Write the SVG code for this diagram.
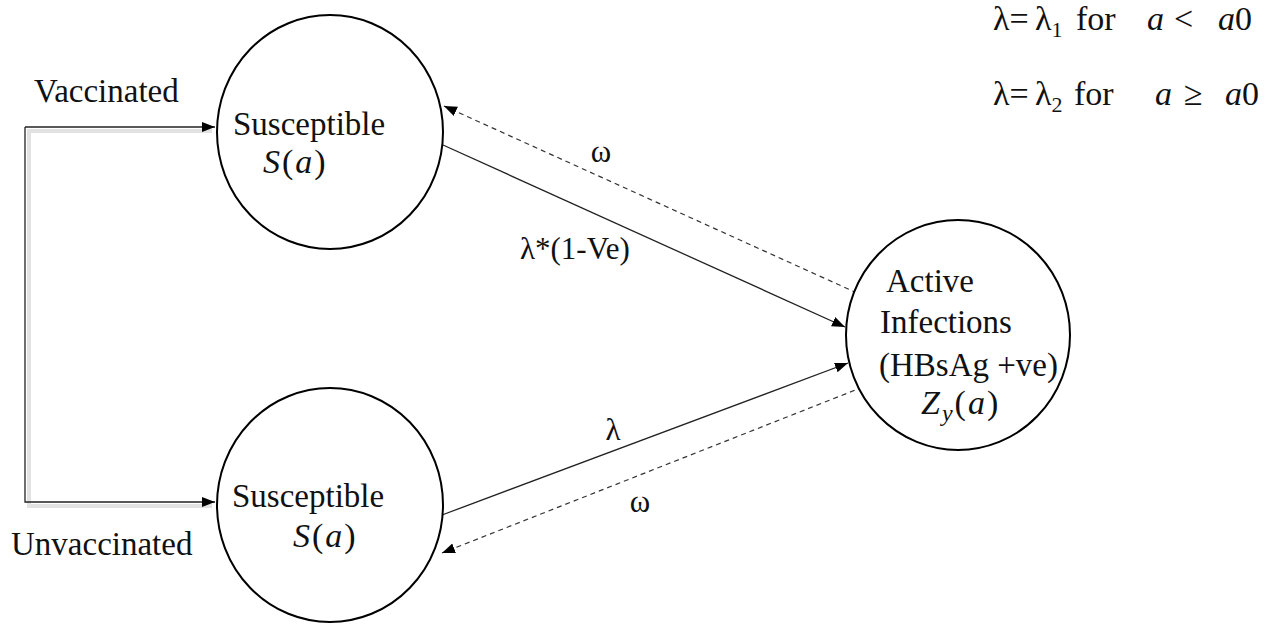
<svg xmlns="http://www.w3.org/2000/svg" width="1275" height="625" viewBox="0 0 1275 625">
<defs>
<style>
.node{fill:#fff;stroke:#000;stroke-width:2}
.t{font-family:"Liberation Serif","Times New Roman",serif;font-size:33px;fill:#111}
.e{font-family:"Liberation Serif","Times New Roman",serif;font-size:31px;fill:#111}
.m{font-family:"Liberation Serif","Times New Roman",serif;font-size:34px;fill:#111;letter-spacing:2px}
.k{font-family:"Liberation Serif","Times New Roman",serif;font-size:34px;fill:#111}
.i{font-style:italic}
.solid{fill:none;stroke:#222;stroke-width:1.3}
.dash{fill:none;stroke:#333;stroke-width:1.2;stroke-dasharray:5,4}
.shadow{fill:none;stroke:#e2e2e2;stroke-width:4}
</style>
<marker id="ah" markerUnits="userSpaceOnUse" markerWidth="14" markerHeight="12" refX="13" refY="5" orient="auto">
<path d="M0,0 L13,5 L0,10 z" fill="#000"/>
</marker>
</defs>
<rect width="1275" height="625" fill="#fff"/>

<g id="connectors">
<polyline class="shadow" points="212,131 29,131 29,506 212,506"/>
<polyline class="solid" points="25,127 25,502 215,502" stroke="#111" marker-end="url(#ah)"/>
<line class="solid" x1="25" y1="127" x2="215" y2="127" stroke="#111" marker-end="url(#ah)"/>
<line class="dash" x1="857" y1="293" x2="444" y2="106" marker-end="url(#ah)"/>
<line class="solid" x1="443" y1="145" x2="845" y2="327" marker-end="url(#ah)"/>
<line class="solid" x1="442" y1="515" x2="848" y2="363" marker-end="url(#ah)"/>
<line class="dash" x1="863" y1="387" x2="442" y2="553" marker-end="url(#ah)"/>
<text class="e" x="601" y="162" text-anchor="middle">ω</text>
<text class="e" x="520" y="259">λ*(1-Ve)</text>
<text class="e" x="613" y="440" text-anchor="middle">λ</text>
<text class="e" x="640" y="512" text-anchor="middle">ω</text>
</g>

<g id="vaccinated-label">
<text class="t" x="34" y="102">Vaccinated</text>
</g>
<g id="unvaccinated-label">
<text class="t" x="11" y="555">Unvaccinated</text>
</g>

<g id="susceptible-vaccinated">
<ellipse class="node" cx="330" cy="132" rx="113" ry="117"/>
<text class="t" x="233" y="135">Susceptible</text>
<text class="m" x="263" y="173"><tspan class="i">S</tspan>(<tspan class="i">a</tspan>)</text>
</g>

<g id="susceptible-unvaccinated">
<ellipse class="node" cx="330" cy="505" rx="113" ry="117"/>
<text class="t" x="232" y="507">Susceptible</text>
<text class="m" x="293" y="547"><tspan class="i">S</tspan>(<tspan class="i">a</tspan>)</text>
</g>

<g id="active-infections">
<ellipse class="node" cx="958" cy="335" rx="112" ry="115"/>
<text class="t" x="886" y="292">Active</text>
<text class="t" x="880" y="333">Infections</text>
<text class="t" x="879" y="376">(HBsAg +ve)</text>
<text class="m" x="921" y="414"><tspan class="i">Z</tspan><tspan class="i" font-size="24" dy="7">y</tspan><tspan dy="-7">(</tspan><tspan class="i">a</tspan>)</text>
</g>

<g id="lambda-definition">
<text class="k" x="993" y="30">λ=</text>
<text class="k" x="1035" y="30">λ<tspan font-size="22" dy="7">1</tspan></text>
<text class="k" x="1076" y="30">for</text>
<text class="k i" x="1147" y="30">a</text>
<text class="k" x="1174" y="30">&lt;</text>
<text class="k" x="1218" y="30"><tspan class="i">a</tspan>0</text>
<text class="k" x="993" y="105">λ=</text>
<text class="k" x="1035" y="105">λ<tspan font-size="22" dy="7">2</tspan></text>
<text class="k" x="1074" y="105">for</text>
<text class="k i" x="1155" y="105">a</text>
<text class="k" x="1184" y="105">≥</text>
<text class="k" x="1225" y="105"><tspan class="i">a</tspan>0</text>
</g>
</svg>
